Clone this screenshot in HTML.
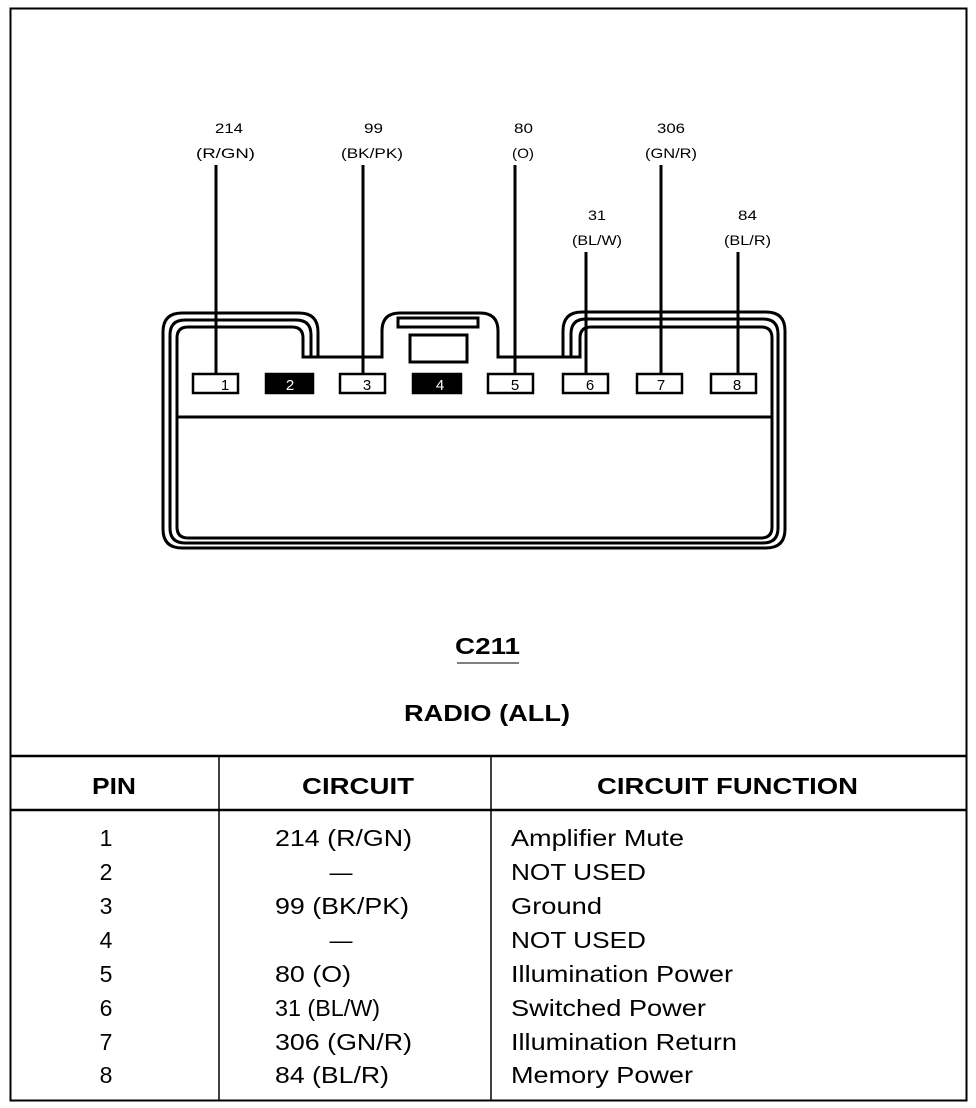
<!DOCTYPE html>
<html><head><style>
html,body{margin:0;padding:0;background:#fff;}
svg{display:block;}
text{font-family:"Liberation Sans",Arial,sans-serif;fill:#000;}
</style></head><body>
<svg width="976" height="1108" viewBox="0 0 976 1108">
<rect x="0" y="0" width="976" height="1108" fill="#fff"/>
<rect x="10.5" y="8.5" width="956" height="1092" fill="none" stroke="#000" stroke-width="2"/>
<line x1="10" y1="756" x2="967" y2="756" stroke="#000" stroke-width="2.5"/>
<line x1="10" y1="810" x2="967" y2="810" stroke="#000" stroke-width="2.5"/>
<line x1="219" y1="756" x2="219" y2="1100" stroke="#000" stroke-width="1.5"/>
<line x1="491" y1="756" x2="491" y2="1100" stroke="#000" stroke-width="1.5"/>

<g fill="none" stroke="#000" stroke-width="3">
<path d="M318,357 V332 Q318,313 299,313 H182 Q163,313 163,332 V529 Q163,548 182,548 H766 Q785,548 785,529 V331 Q785,312 766,312 H582 Q563,312 563,331 V357"/>
<path d="M311,357 V335 Q311,320 296,320 H185 Q170,320 170,335 V528 Q170,543 185,543 H763 Q778,543 778,528 V334 Q778,319 763,319 H586 Q571,319 571,334 V357"/>
<path d="M303,357 V338 Q303,327 292,327 H188 Q177,327 177,338 V527 Q177,538 188,538 H761 Q772,538 772,527 V338 Q772,327 761,327 H591 Q580,327 580,338 V357 H498 V331 Q498,313 480,313 H400 Q382,313 382,331 V357 Z"/>
<line x1="177" y1="417" x2="772" y2="417"/>
<rect x="398" y="318" width="80" height="9"/>
<rect x="410" y="335" width="57" height="27"/>
</g>

<g stroke="#000" stroke-width="3">
<line x1="216" y1="165" x2="216" y2="374"/>
<line x1="363" y1="165" x2="363" y2="374"/>
<line x1="515" y1="165" x2="515" y2="374"/>
<line x1="586" y1="252" x2="586" y2="374"/>
<line x1="661" y1="165" x2="661" y2="374"/>
<line x1="738" y1="252" x2="738" y2="374"/>
</g>

<g stroke="#000" stroke-width="2.5" fill="#fff">
<rect x="193" y="374" width="45" height="19"/>
<rect x="266" y="374" width="47" height="19" fill="#000"/>
<rect x="340" y="374" width="45" height="19"/>
<rect x="413" y="374" width="48" height="19" fill="#000"/>
<rect x="488" y="374" width="45" height="19"/>
<rect x="563" y="374" width="45" height="19"/>
<rect x="637" y="374" width="45" height="19"/>
<rect x="711" y="374" width="45" height="19"/>
</g>
<g font-size="15" text-anchor="middle">
<text x="225" y="390">1</text>
<text x="290" y="390" style="fill:#fff">2</text>
<text x="367" y="390">3</text>
<text x="440" y="390" style="fill:#fff">4</text>
<text x="515" y="390">5</text>
<text x="590" y="390">6</text>
<text x="661" y="390">7</text>
<text x="737" y="390">8</text>
</g>

<g font-size="14" lengthAdjust="spacingAndGlyphs">
<text x="215" y="133" textLength="28" lengthAdjust="spacingAndGlyphs">214</text><text x="196" y="158" textLength="59" lengthAdjust="spacingAndGlyphs">(R/GN)</text>
<text x="364" y="133" textLength="19" lengthAdjust="spacingAndGlyphs">99</text><text x="341" y="158" textLength="62" lengthAdjust="spacingAndGlyphs">(BK/PK)</text>
<text x="514" y="133" textLength="19" lengthAdjust="spacingAndGlyphs">80</text><text x="512" y="158" textLength="22" lengthAdjust="spacingAndGlyphs">(O)</text>
<text x="657" y="133" textLength="28" lengthAdjust="spacingAndGlyphs">306</text><text x="645" y="158" textLength="52" lengthAdjust="spacingAndGlyphs">(GN/R)</text>
<text x="588" y="220" textLength="18" lengthAdjust="spacingAndGlyphs">31</text><text x="572" y="245" textLength="50" lengthAdjust="spacingAndGlyphs">(BL/W)</text>
<text x="738" y="220" textLength="19" lengthAdjust="spacingAndGlyphs">84</text><text x="724" y="245" textLength="47" lengthAdjust="spacingAndGlyphs">(BL/R)</text>
</g>

<text x="455" y="654" font-size="23" font-weight="bold" textLength="65" lengthAdjust="spacingAndGlyphs">C211</text>
<line x1="457" y1="663" x2="519" y2="663" stroke="#000" stroke-width="1"/>
<text x="404" y="721" font-size="23" font-weight="bold" textLength="166" lengthAdjust="spacingAndGlyphs">RADIO (ALL)</text>

<g font-size="23" font-weight="bold">
<text x="92" y="794" textLength="44" lengthAdjust="spacingAndGlyphs">PIN</text>
<text x="302" y="794" textLength="112" lengthAdjust="spacingAndGlyphs">CIRCUIT</text>
<text x="597" y="794" textLength="261" lengthAdjust="spacingAndGlyphs">CIRCUIT FUNCTION</text>
</g>
<g font-size="23">
<g text-anchor="middle">
<text x="106" y="846">1</text><text x="106" y="880">2</text><text x="106" y="914">3</text><text x="106" y="948">4</text>
<text x="106" y="982">5</text><text x="106" y="1016">6</text><text x="106" y="1050">7</text><text x="106" y="1083">8</text>
<text x="341" y="880">—</text><text x="341" y="948">—</text>
</g>
<text x="275" y="846" textLength="137" lengthAdjust="spacingAndGlyphs">214 (R/GN)</text>
<text x="275" y="914" textLength="134" lengthAdjust="spacingAndGlyphs">99 (BK/PK)</text>
<text x="275" y="982" textLength="76" lengthAdjust="spacingAndGlyphs">80 (O)</text>
<text x="275" y="1016" textLength="105" lengthAdjust="spacingAndGlyphs">31 (BL/W)</text>
<text x="275" y="1050" textLength="137" lengthAdjust="spacingAndGlyphs">306 (GN/R)</text>
<text x="275" y="1083" textLength="114" lengthAdjust="spacingAndGlyphs">84 (BL/R)</text>
<text x="511" y="846" textLength="173" lengthAdjust="spacingAndGlyphs">Amplifier Mute</text>
<text x="511" y="880" textLength="135" lengthAdjust="spacingAndGlyphs">NOT USED</text>
<text x="511" y="914" textLength="91" lengthAdjust="spacingAndGlyphs">Ground</text>
<text x="511" y="948" textLength="135" lengthAdjust="spacingAndGlyphs">NOT USED</text>
<text x="511" y="982" textLength="222" lengthAdjust="spacingAndGlyphs">Illumination Power</text>
<text x="511" y="1016" textLength="195" lengthAdjust="spacingAndGlyphs">Switched Power</text>
<text x="511" y="1050" textLength="226" lengthAdjust="spacingAndGlyphs">Illumination Return</text>
<text x="511" y="1083" textLength="182" lengthAdjust="spacingAndGlyphs">Memory Power</text>
</g>
</svg>
</body></html>
